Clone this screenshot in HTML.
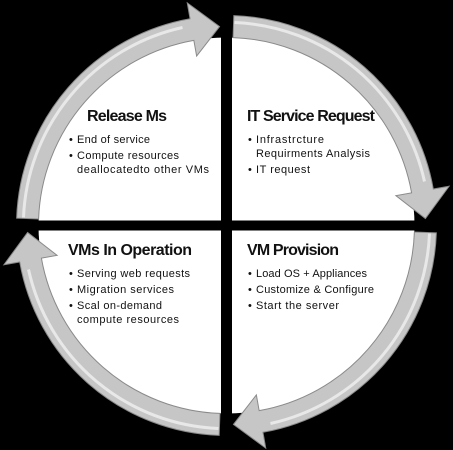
<!DOCTYPE html>
<html><head><meta charset="utf-8"><style>
html,body{margin:0;padding:0;background:#000;}
svg{display:block;}
text{font-family:"Liberation Sans",sans-serif;fill:#111;}
.t{font-weight:bold;font-size:16px;}
.b{font-size:11px;}
</style></head><body>
<svg width="453" height="450" viewBox="0 0 453 450" xmlns="http://www.w3.org/2000/svg">
<defs>
<linearGradient id="g" x1="0" y1="0" x2="1" y2="1">
<stop offset="0" stop-color="#d8d8d8"/><stop offset="0.5" stop-color="#c4c4c4"/><stop offset="1" stop-color="#b0b0b0"/>
</linearGradient>
</defs>
<rect width="453" height="450" fill="#000"/>
<circle cx="226.5" cy="225.5" r="188" fill="#fff"/>
<rect x="221" y="0" width="11" height="450" fill="#000"/>
<rect x="0" y="220.5" width="453" height="10" fill="#000"/>
<g transform="translate(226.5,225.5)">
<g id="a">
<path d="M 7.33,-209.87 A 210 210 0 0 1 206.8,-36.46 L 222.6,-39.24 L 198.9,-6.95 L 169.4,-29.86 L 185.1,-32.64 A 188 188 0 0 0 6.56,-187.89 Z" fill="#c6c6c6" stroke="#8a8a8a" stroke-width="1"/>
<path d="M 8,-203 A 203 203 0 0 1 198,-44" fill="none" stroke="#e8e8e8" stroke-width="3"/>
</g>
<use href="#a" transform="rotate(90)"/>
<use href="#a" transform="rotate(180)"/>
<use href="#a" transform="rotate(270)"/>
</g>

<text class="t" x="87" y="121" textLength="80">Release Ms</text>
<text class="b" x="69" y="143">•</text><text class="b" x="77" y="143" textLength="73">End of service</text>
<text class="b" x="69" y="159">•</text><text class="b" x="77" y="159" textLength="102">Compute resources</text>
<text class="b" x="77" y="173" textLength="132">deallocatedto other VMs</text>

<text class="t" x="247" y="121" textLength="128">IT Service Request</text>
<text class="b" x="248" y="143">•</text><text class="b" x="256" y="143" textLength="68">Infrastrcture</text>
<text class="b" x="256" y="157" textLength="114">Requirments Analysis</text>
<text class="b" x="248" y="173">•</text><text class="b" x="256" y="173" textLength="54">IT request</text>

<text class="t" x="68" y="255" textLength="124">VMs In Operation</text>
<text class="b" x="69" y="277">•</text><text class="b" x="77" y="277" textLength="113">Serving web requests</text>
<text class="b" x="69" y="293">•</text><text class="b" x="77" y="293" textLength="97">Migration services</text>
<text class="b" x="69" y="309">•</text><text class="b" x="77" y="309" textLength="85">Scal on-demand</text>
<text class="b" x="77" y="323" textLength="102">compute resources</text>

<text class="t" x="247" y="255" textLength="92">VM Provision</text>
<text class="b" x="248" y="277">•</text><text class="b" x="256" y="277" textLength="111">Load OS + Appliances</text>
<text class="b" x="248" y="293">•</text><text class="b" x="256" y="293" textLength="118">Customize &amp; Configure</text>
<text class="b" x="248" y="309">•</text><text class="b" x="256" y="309" textLength="83">Start the server</text>
</svg>
</body></html>
